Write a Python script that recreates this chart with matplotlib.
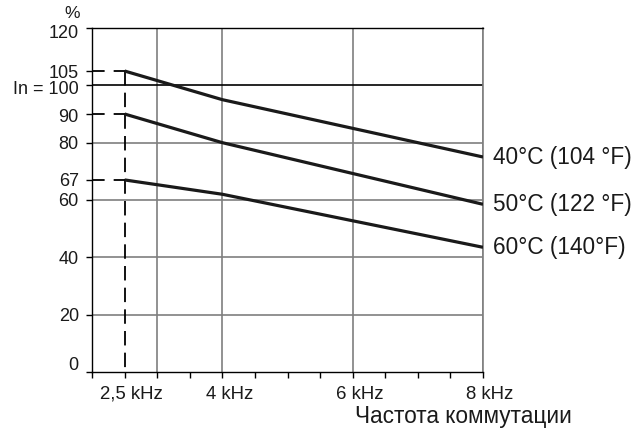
import matplotlib
matplotlib.use("Agg")
import matplotlib.pyplot as plt
from matplotlib.transforms import ScaledTranslation

plt.rcParams['font.family'] = ['Liberation Sans', 'DejaVu Sans']

# Data
freq_khz = [2.5, 4, 8]
series_labels = ["40°C (104 °F)", "50°C (122 °F)", "60°C (140°F)"]
series_values = [
    [105, 95, 75],
    [90, 80, 58.5],
    [67, 62, 43.5],
]
ytick_values = [0, 20, 40, 60, 67, 80, 90, 100, 105, 120]
ytick_labels = ["0", "20", "40", "60", "67", "80", "90", "In = 100", "105", "120"]
xtick_values = [2.5, 4, 6, 8]
xtick_labels = ["2,5 kHz", "4 kHz", "6 kHz", "8 kHz"]
ref_levels = [105, 90, 67]
x_grid = [3, 4, 6, 8]
y_grid = [20, 40, 60, 80]
x_title = "Частота коммутации"
y_unit = "%"

text_color = "#1a1a1a"
fig = plt.figure(figsize=(6.43, 4.29), dpi=100)
ax = fig.add_axes([0.1431, 0.1329, 0.7512 - 0.1431, 0.9347 - 0.1329])
ax.set_xlim(2, 8)
ax.set_ylim(0, 120)

grid_color = "#7f7f7f"
for xv in x_grid:
    ax.axvline(xv, color=grid_color, lw=1.2, zorder=1)
for yv in y_grid:
    ax.axhline(yv, color=grid_color, lw=1.2, zorder=1)
ax.axhline(100, color="black", lw=1.2, zorder=1)

# dashed reference lines
for lv in ref_levels:
    ax.plot([2, 2.5], [lv, lv], color="black", lw=1.3, dashes=(7, 5), zorder=2, clip_on=False)
ax.plot([2.5, 2.5], [ref_levels[0], 0], color="black", lw=1.3, dashes=(8, 4), zorder=2)

for vals, lab in zip(series_values, series_labels):
    ax.plot(freq_khz, vals, color="#1a1a1a", lw=2.3, zorder=3, solid_capstyle="butt")
    ax.annotate(lab, xy=(freq_khz[-1], vals[-1]), xytext=(7.5, 0), textcoords="offset points",
                ha="left", va="center", fontsize=16.3, color=text_color, annotation_clip=False)

for side in ["left", "bottom", "top"]:
    ax.spines[side].set_color("black")
    ax.spines[side].set_linewidth(1.0)
ax.spines["right"].set_color(grid_color)
ax.spines["right"].set_linewidth(1.2)

ax.set_yticks(ytick_values)
ax.set_yticklabels(ytick_labels, fontsize=13, color=text_color)
ax.set_xticks(xtick_values)
ax.set_xticklabels(xtick_labels, fontsize=13.4, color=text_color)
ax.set_xticks([2 + 0.5 * i for i in range(13)], minor=True)
ax.tick_params(axis="both", which="both", direction="out", length=4, width=1.0, color="black")
ax.tick_params(axis="y", pad=5.5)
ax.tick_params(axis="x", pad=6)
shift = ScaledTranslation(5 / 72, 0, fig.dpi_scale_trans)
for t in ax.get_xticklabels():
    t.set_transform(t.get_transform() + shift)
# small vertical nudges of some labels as in the reference
nudges_px = {0: 8, 6: -1, 7: -2, 9: -3}
for idx, dy in nudges_px.items():
    lbl = ax.get_yticklabels()[idx]
    lbl.set_transform(lbl.get_transform() + ScaledTranslation(0, dy / 100, fig.dpi_scale_trans))

fig.text(72 / 643, 1 - 14 / 429, y_unit, fontsize=12.5, ha="center", va="center", color=text_color)
fig.text(355 / 643, 1 - 423 / 429, x_title, fontsize=16.3, ha="left", va="baseline", color=text_color)

fig.savefig("out.png", dpi=100)
